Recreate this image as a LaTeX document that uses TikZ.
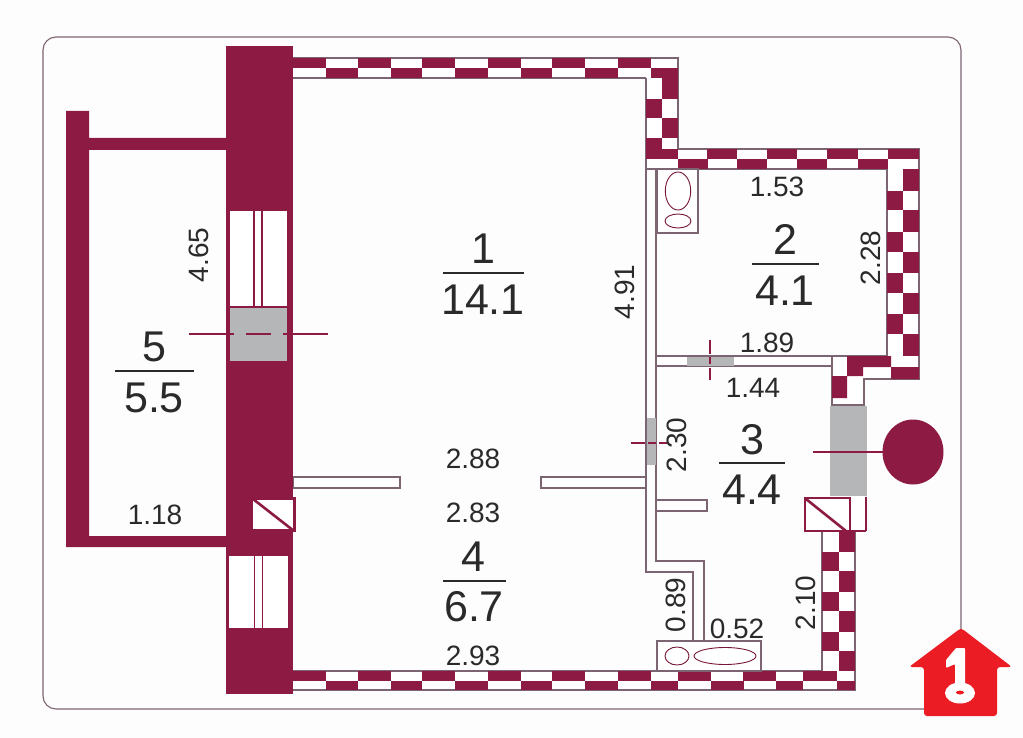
\documentclass[tikz,border=0pt]{standalone}
\usepackage{fontspec}
\setmainfont{Liberation Sans}
\definecolor{wallc}{HTML}{8C1A42}
\definecolor{linec}{HTML}{7D6472}
\definecolor{grayc}{HTML}{B4B6B8}
\definecolor{textc}{HTML}{2A2A2A}
\definecolor{redc}{HTML}{EC1C24}
\definecolor{bgc}{HTML}{FEFDFE}
\tikzset{
  thinline/.style={draw=linec,line width=1.1pt},
  whitebox/.style={draw=linec,line width=1.1pt,fill=white},
  fixture/.style={draw=wallc!85!black,line width=0.9pt},
  framebox/.style={draw=wallc,line width=2.6pt,fill=white},
  mullion/.style={draw=wallc,line width=1.8pt},
  dimtext/.style={font=\fontsize{28}{30}\selectfont,text=textc,inner sep=0pt,anchor=center,text height=20pt,text depth=0pt},
  areatext/.style={font=\fontsize{43}{45}\selectfont,text=textc,inner sep=0pt,anchor=center,text height=31pt,text depth=0pt},
  fracline/.style={draw=textc,line width=1.8pt},
  sightline/.style={draw=wallc,line width=1.2pt},
}
\begin{document}
\begin{tikzpicture}[x=1pt,y=-1pt]
\useasboundingbox (0,0) rectangle (1023,738);
\fill[bgc] (0,0) rectangle (1023,738);
% outer frame
\draw[draw=linec,line width=1.1pt,rounded corners=13pt] (43,37) rectangle (961,709);
% white wall strips under the checker cells
\fill[white] (293,58) rectangle (678,78) (646,78) rectangle (678,149)
  (646,149) rectangle (919,169) (887,169) rectangle (919,356)
  (832,356) rectangle (919,379) (832,379) rectangle (864,405)
  (293,671) rectangle (855,690) (822,531) rectangle (855,671);
% interior partitions
\draw[thinline] (656,169) -- (656,561) -- (704,561) -- (704,641);
\draw[thinline] (646,78) -- (646,572) -- (693,572) -- (693,641);
\draw[whitebox] (656,356) rectangle (832,366);
\draw[whitebox] (293,477) rectangle (400,488);
\draw[whitebox] (541,477) rectangle (646,488);
\draw[whitebox] (656,500) rectangle (707,511);
% checker walls: outlines
\draw[thinline] (293,58) -- (678,58) -- (678,149) -- (919,149) -- (919,379) -- (864,379) -- (864,405) -- (832,405) -- (832,356) -- (656,356);
\draw[thinline] (293,78) -- (646,78) (646,169) -- (887,169) -- (887,356) -- (832,356);
\draw[thinline] (293,671) -- (822,671) -- (822,531) (293,690) -- (855,690) -- (855,531);
% checker cells
\foreach \a/\b in {293/326,358/391,422/455,488/521,552/585,618/651}
  \fill[wallc] (\a,58) rectangle (\b,68);
\foreach \a/\b in {326/358,391/422,455/488,521/552,585/618,651/678}
  \fill[wallc] (\a,68) rectangle (\b,78);
\foreach \a/\b in {78/99,118/138} \fill[wallc] (662,\a) rectangle (678,\b);
\foreach \a/\b in {99/118,138/149} \fill[wallc] (646,\a) rectangle (662,\b);
\foreach \a/\b in {646/678,707/737,767/797,827/858,888/919}
  \fill[wallc] (\a,149) rectangle (\b,159);
\foreach \a/\b in {678/708,737/767,797/827,858/888}
  \fill[wallc] (\a,159) rectangle (\b,169);
\foreach \a/\b in {191/210,232/252,273/293,314/334}
  \fill[wallc] (887,\a) rectangle (903,\b);
\foreach \a/\b in {169/191,210/232,252/273,293/314,334/356}
  \fill[wallc] (903,\a) rectangle (919,\b);
\fill[wallc] (847,356) rectangle (863,376) (863,356) rectangle (891,367)
  (891,367) rectangle (919,379) (832,376) rectangle (847,398);
\foreach \a/\b in {293/326,358/391,422/455,488/521,552/585,618/651,678/711,743/776,803/837}
  \fill[wallc] (\a,671) rectangle (\b,681);
\foreach \a/\b in {326/358,391/422,455/488,521/552,585/618,651/678,711/744,776/803,837/855}
  \fill[wallc] (\a,681) rectangle (\b,690);
\foreach \a/\b in {552/571,592/611,632/651}
  \fill[wallc] (822,\a) rectangle (839,\b);
\foreach \a/\b in {531/552,571/592,611/632,651/671}
  \fill[wallc] (839,\a) rectangle (855,\b);
% main load-bearing wall and balcony
\fill[wallc] (226,46) rectangle (293,694);
\fill[wallc] (66,111) -- (89,111) -- (89,138) -- (226,138) -- (226,150) -- (89,150)
  -- (89,536) -- (226,536) -- (226,547) -- (66,547) -- cycle;
% upper window and gray opening
\fill[white] (230,211) rectangle (287,306);
\draw[mullion] (254,211) -- (254,306) (262,211) -- (262,306);
\fill[grayc] (230,308) rectangle (287,361);
\draw[sightline] (189,334) -- (234,334) (246,334) -- (271,334) (283,334) -- (328,334);
% lower window
\fill[white] (229,556) rectangle (288,628);
\draw[mullion] (254.5,556) -- (254.5,628) (262.5,556) -- (262.5,628);
% shaft box, left
\fill[white] (253,500) rectangle (293,530);
\draw[wallc,line width=2.8pt] (294.6,497) -- (294.6,532) (253,498) -- (293,498) (253,530) -- (296,530);
\draw[wallc,line width=2.6pt] (253,499) -- (294,531);
% fixtures, top
\draw[whitebox] (657,169) rectangle (698,233);
\draw[fixture] (678,191) ellipse [x radius=12.7pt,y radius=19pt];
\draw[fixture] (678,221) ellipse [x radius=13pt,y radius=7pt];
% fixtures, bottom
\draw[whitebox] (657,641) rectangle (761,671);
\draw[fixture] (677,656) ellipse [x radius=12pt,y radius=9pt];
\draw[fixture] (725,656) ellipse [x radius=31pt,y radius=8.5pt];
% doors: gray openings and sight lines
\fill[grayc] (687,356.5) rectangle (734,365.5);
\draw[sightline,dash pattern=on 14pt off 3pt on 7pt off 4pt] (710,340) -- (710,380);
\fill[grayc] (646.5,418) rectangle (656,465);
\draw[sightline,dash pattern=on 14pt off 3pt on 8pt off 3pt] (631,443) -- (667,443);
\fill[grayc] (830,406) rectangle (867,496);
% door box right
\fill[white] (850.5,497) rectangle (865,530);
\draw[wallc,line width=1.4pt] (866,497) -- (866,531);
\draw[framebox] (805,498) rectangle (850,531);
\draw[wallc,line width=2.6pt] (805,531) -- (866,531);
\draw[wallc,line width=2.6pt] (806,499) -- (846,531);
% entrance marker
\draw[wallc,line width=2.6pt] (813,452) -- (885,452);
\fill[wallc] (913,452) ellipse [x radius=30.5pt,y radius=32.5pt];
% logo
\fill[redc,rounded corners=3pt] (961,628) -- (1012,667) -- (997,667) -- (997,716) -- (924,716) -- (924,667) -- (909,667) -- cycle;
\fill[white] (960,693) ellipse [x radius=15pt,y radius=10.5pt];
\fill[white,rounded corners=1pt] (965,648) -- (965,690) -- (955,690) -- (955,664) -- (946,668) -- (946,660) -- (956,648) -- cycle;
\fill[redc] (960,692.5) ellipse [x radius=4pt,y radius=2pt];
% area labels
\node[areatext] (n1) at (483,248.5) {1};
\draw[fracline] (443,273) -- (524,273);
\node[areatext] (a1) at (483,298.5) {14.1};
\node[areatext] (n2) at (785,239) {2};
\draw[fracline] (752,264) -- (819,264);
\node[areatext] (a2) at (785,290) {4.1};
\node[areatext] (n3) at (752,439) {3};
\draw[fracline] (719,463) -- (785,463);
\node[areatext] (a3) at (752,489) {4.4};
\node[areatext] (n4) at (473,556) {4};
\draw[fracline] (443,581) -- (506,581);
\node[areatext] (a4) at (474,606) {6.7};
\node[areatext] (n5) at (154,346) {5};
\draw[fracline] (115,371) -- (194,371);
\node[areatext] (a5) at (154,397) {5.5};
% dimensions
\node[dimtext] (d153) at (777,187) {1.53};
\node[dimtext,rotate=90] (d228) at (870,258) {2.28};
\node[dimtext] (d189) at (767,342) {1.89};
\node[dimtext] (d144) at (753,387) {1.44};
\node[dimtext,rotate=90] (d491) at (624,292) {4.91};
\node[dimtext,rotate=90] (d465) at (198,255) {4.65};
\node[dimtext,rotate=90] (d230) at (676,445) {2.30};
\node[dimtext] (d288) at (473,458) {2.88};
\node[dimtext] (d283) at (473,512) {2.83};
\node[dimtext] (d293) at (473,655) {2.93};
\node[dimtext] (d118) at (155,514) {1.18};
\node[dimtext,rotate=90] (d089) at (675,605) {0.89};
\node[dimtext] (d052) at (737,628) {0.52};
\node[dimtext,rotate=90] (d210) at (805,603) {2.10};
\end{tikzpicture}
\end{document}
